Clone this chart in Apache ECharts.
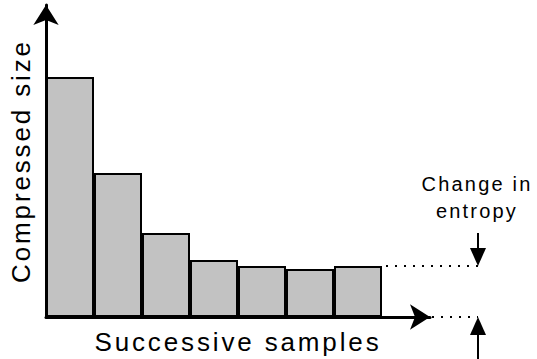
<!DOCTYPE html>
<html>
<head>
<meta charset="utf-8">
<script src="https://cdn.jsdelivr.net/npm/echarts@6/dist/echarts.min.js"></script>
<style>
  html, body { margin: 0; padding: 0; background: #fff; }
  #chart { width: 537px; height: 359px; }
  /* the original lettering is spaced out a little */
  #chart svg text { letter-spacing: 0.11em; }
</style>
</head>
<body>
<div id="chart"></div>
<script>
// successive samples (last slot left empty so the axis runs past the bars)
var samples = ['1', '2', '3', '4', '5', '6', '7', ''];
// compressed size of each sample (arbitrary units)
var sizes = [240, 144, 84, 57, 51, 48, 51, null];
var yMax = 312;

var font = '"Liberation Sans", Arial, Helvetica, sans-serif';

var myChart = echarts.init(document.getElementById('chart'), null, { renderer: 'svg' });

var option = {
    animation: false,
    grid: { left: 46, right: 107, top: 5, bottom: 42, containLabel: false, outerBoundsMode: 'none' },
    xAxis: {
        type: 'category',
        data: samples,
        boundaryGap: true,
        name: 'Successive samples',
        nameLocation: 'middle',
        nameGap: 12,
        nameTextStyle: { fontFamily: font, fontSize: 26, color: '#000', verticalAlign: 'top' },
        axisLine: {
            lineStyle: { color: '#000', width: 3 },
            symbol: ['none', 'arrow'],
            symbolSize: [19, 20],
            symbolOffset: [0, 0]
        },
        axisTick: { show: false },
        axisLabel: { show: false },
        splitLine: { show: false }
    },
    yAxis: {
        type: 'value',
        min: 0,
        max: yMax,
        name: 'Compressed size',
        nameLocation: 'middle',
        nameGap: 12,
        nameTextStyle: { fontFamily: font, fontSize: 26, color: '#000' },
        axisLine: {
            show: true,
            lineStyle: { color: '#000', width: 3 },
            symbol: ['none', 'arrow'],
            symbolSize: [19, 20]
        },
        axisTick: { show: false },
        axisLabel: { show: false },
        splitLine: { show: false }
    },
    series: [{
        type: 'bar',
        data: sizes,
        barCategoryGap: 0,
        itemStyle: { color: '#c2c2c2', borderColor: '#000', borderWidth: 2 },
        silent: true
    }]
};
myChart.setOption(option);

// annotation: dotted guides and "Change in entropy" arrows
var last = sizes.length - 2;
var pTop = myChart.convertToPixel({ seriesIndex: 0 }, [last, sizes[last]]);
var pBase = myChart.convertToPixel({ seriesIndex: 0 }, [last, 0]);
var step = myChart.convertToPixel({ seriesIndex: 0 }, [1, 0])[0] - myChart.convertToPixel({ seriesIndex: 0 }, [0, 0])[0];
var barRight = pTop[0] + step / 2;
var axisEnd = pBase[0] + step * 1.5;
var ax = pTop[0] + step * 2.5;   // column of the two small arrows
var yTop = pTop[1], yBase = pBase[1];
var dot = { stroke: '#000', lineWidth: 2, lineDash: [2, 7] };
var solid = { stroke: '#000', lineWidth: 2 };

myChart.setOption({
    graphic: [
        { type: 'line', shape: { x1: barRight + 4, y1: yTop, x2: ax, y2: yTop }, style: dot, silent: true },
        { type: 'line', shape: { x1: axisEnd + 2, y1: yBase, x2: ax, y2: yBase }, style: dot, silent: true },
        // down arrow
        { type: 'line', shape: { x1: ax, y1: yTop - 33, x2: ax, y2: yTop - 16 }, style: solid, silent: true },
        { type: 'polygon', shape: { points: [[ax - 8, yTop - 18], [ax + 8, yTop - 18], [ax, yTop]] }, style: { fill: '#000' }, silent: true },
        // up arrow
        { type: 'line', shape: { x1: ax, y1: yBase + 16, x2: ax, y2: 359 }, style: solid, silent: true },
        { type: 'polygon', shape: { points: [[ax - 8, yBase + 18], [ax + 8, yBase + 18], [ax, yBase]] }, style: { fill: '#000' }, silent: true },
        {
            type: 'text', x: ax - 1, y: yTop - 72, silent: true,
            style: { text: 'Change in', fontFamily: font, fontSize: 20, fill: '#000', align: 'center', verticalAlign: 'bottom' }
        },
        {
            type: 'text', x: ax - 1, y: yTop - 45, silent: true,
            style: { text: 'entropy', fontFamily: font, fontSize: 20, fill: '#000', align: 'center', verticalAlign: 'bottom' }
        }
    ]
});
</script>
</body>
</html>
